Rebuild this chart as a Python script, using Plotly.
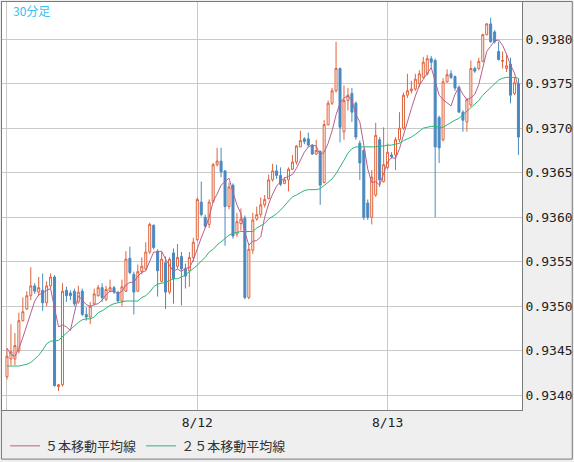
import pandas as pd
import plotly.graph_objects as go

# 30-minute bars, 8/11 00:00 onward
times = pd.date_range("2014-08-11 00:00", periods=130, freq="30min")

opens = [
    0.93421, 0.93441, 0.93441, 0.93450, 0.93484, 0.93497, 0.93512, 0.93523, 0.93516, 0.93518,
    0.93504, 0.93523, 0.93533, 0.93410, 0.93412, 0.93518, 0.93515, 0.93517, 0.93505, 0.93517,
    0.93491, 0.93488, 0.93503, 0.93512, 0.93521, 0.93508, 0.93517, 0.93521, 0.93516, 0.93506,
    0.93517, 0.93554, 0.93536, 0.93517, 0.93539, 0.93542, 0.93561, 0.93591, 0.93562, 0.93528,
    0.93549, 0.93516, 0.93560, 0.93545, 0.93556, 0.93542, 0.93540, 0.93555, 0.93575, 0.93617,
    0.93600, 0.93592, 0.93618, 0.93659, 0.93663, 0.93652, 0.93612, 0.93636, 0.93581, 0.93593,
    0.93599, 0.93510, 0.93563, 0.93598, 0.93603, 0.93614, 0.93621, 0.93642, 0.93652, 0.93647,
    0.93638, 0.93642, 0.93654, 0.93662, 0.93679, 0.93688, 0.93688, 0.93681, 0.93671, 0.93674,
    0.93639, 0.93704, 0.93728, 0.93742, 0.93767, 0.93696, 0.93731, 0.93739, 0.93728, 0.93683,
    0.93675, 0.93616, 0.93600, 0.93625, 0.93687, 0.93640, 0.93656, 0.93670, 0.93670, 0.93687,
    0.93700, 0.93737, 0.93742, 0.93744, 0.93750, 0.93757, 0.93761, 0.93778, 0.93776, 0.93712,
    0.93687, 0.93752, 0.93761, 0.93758, 0.93746, 0.93718, 0.93707, 0.93726, 0.93767, 0.93767,
    0.93775, 0.93805, 0.93817, 0.93808, 0.93786, 0.93775, 0.93767, 0.93772, 0.93739, 0.93750,
]
highs = [
    0.93453, 0.93480, 0.93470, 0.93493, 0.93510, 0.93517, 0.93544, 0.93526, 0.93533, 0.93537,
    0.93528, 0.93537, 0.93535, 0.93413, 0.93526, 0.93522, 0.93518, 0.93520, 0.93523, 0.93520,
    0.93499, 0.93505, 0.93520, 0.93524, 0.93526, 0.93523, 0.93530, 0.93523, 0.93517, 0.93530,
    0.93562, 0.93567, 0.93539, 0.93547, 0.93555, 0.93572, 0.93594, 0.93592, 0.93564, 0.93561,
    0.93556, 0.93555, 0.93565, 0.93570, 0.93561, 0.93548, 0.93561, 0.93577, 0.93622, 0.93640,
    0.93603, 0.93620, 0.93661, 0.93678, 0.93678, 0.93653, 0.93639, 0.93638, 0.93605, 0.93610,
    0.93602, 0.93570, 0.93605, 0.93612, 0.93622, 0.93625, 0.93648, 0.93660, 0.93659, 0.93656,
    0.93645, 0.93656, 0.93670, 0.93681, 0.93697, 0.93690, 0.93695, 0.93682, 0.93687, 0.93675,
    0.93709, 0.93731, 0.93745, 0.93797, 0.93768, 0.93748, 0.93745, 0.93745, 0.93730, 0.93686,
    0.93677, 0.93620, 0.93653, 0.93706, 0.93690, 0.93701, 0.93683, 0.93673, 0.93690, 0.93718,
    0.93740, 0.93761, 0.93753, 0.93761, 0.93765, 0.93780, 0.93782, 0.93781, 0.93778, 0.93714,
    0.93756, 0.93766, 0.93765, 0.93759, 0.93748, 0.93720, 0.93734, 0.93776, 0.93769, 0.93779,
    0.93806, 0.93818, 0.93824, 0.93810, 0.93797, 0.93786, 0.93783, 0.93779, 0.93757, 0.93756,
]
lows = [
    0.93418, 0.93434, 0.93434, 0.93447, 0.93483, 0.93496, 0.93507, 0.93514, 0.93512, 0.93495,
    0.93500, 0.93520, 0.93410, 0.93405, 0.93410, 0.93505, 0.93507, 0.93500, 0.93503, 0.93489,
    0.93484, 0.93480, 0.93501, 0.93511, 0.93505, 0.93506, 0.93516, 0.93514, 0.93505, 0.93500,
    0.93516, 0.93536, 0.93491, 0.93516, 0.93536, 0.93540, 0.93559, 0.93564, 0.93511, 0.93527,
    0.93497, 0.93514, 0.93503, 0.93542, 0.93501, 0.93520, 0.93522, 0.93550, 0.93573, 0.93601,
    0.93588, 0.93588, 0.93616, 0.93657, 0.93645, 0.93568, 0.93609, 0.93576, 0.93578, 0.93585,
    0.93508, 0.93508, 0.93559, 0.93596, 0.93600, 0.93611, 0.93620, 0.93640, 0.93643, 0.93635,
    0.93637, 0.93629, 0.93653, 0.93659, 0.93679, 0.93682, 0.93679, 0.93670, 0.93670, 0.93614,
    0.93638, 0.93703, 0.93726, 0.93740, 0.93684, 0.93687, 0.93720, 0.93707, 0.93687, 0.93642,
    0.93597, 0.93597, 0.93592, 0.93623, 0.93634, 0.93639, 0.93654, 0.93666, 0.93653, 0.93684,
    0.93698, 0.93734, 0.93739, 0.93742, 0.93746, 0.93756, 0.93759, 0.93768, 0.93600, 0.93661,
    0.93685, 0.93751, 0.93755, 0.93742, 0.93717, 0.93696, 0.93696, 0.93724, 0.93762, 0.93765,
    0.93774, 0.93804, 0.93796, 0.93795, 0.93776, 0.93767, 0.93763, 0.93728, 0.93737, 0.93670,
]
closes = [
    0.93444, 0.93449, 0.93456, 0.93484, 0.93494, 0.93512, 0.93523, 0.93517, 0.93521, 0.93504,
    0.93523, 0.93533, 0.93411, 0.93412, 0.93517, 0.93512, 0.93512, 0.93503, 0.93516, 0.93491,
    0.93488, 0.93500, 0.93514, 0.93521, 0.93510, 0.93519, 0.93521, 0.93516, 0.93506, 0.93522,
    0.93553, 0.93538, 0.93516, 0.93539, 0.93545, 0.93561, 0.93592, 0.93566, 0.93540, 0.93553,
    0.93516, 0.93553, 0.93531, 0.93555, 0.93542, 0.93534, 0.93555, 0.93572, 0.93620, 0.93603,
    0.93590, 0.93617, 0.93659, 0.93663, 0.93651, 0.93612, 0.93634, 0.93579, 0.93595, 0.93598,
    0.93510, 0.93564, 0.93597, 0.93603, 0.93614, 0.93620, 0.93642, 0.93652, 0.93647, 0.93637,
    0.93642, 0.93654, 0.93662, 0.93680, 0.93686, 0.93685, 0.93681, 0.93671, 0.93675, 0.93636,
    0.93704, 0.93728, 0.93742, 0.93767, 0.93701, 0.93731, 0.93737, 0.93718, 0.93690, 0.93661,
    0.93600, 0.93600, 0.93645, 0.93692, 0.93642, 0.93659, 0.93673, 0.93668, 0.93687, 0.93700,
    0.93737, 0.93742, 0.93744, 0.93755, 0.93761, 0.93774, 0.93778, 0.93774, 0.93679, 0.93678,
    0.93752, 0.93760, 0.93757, 0.93745, 0.93718, 0.93709, 0.93732, 0.93767, 0.93764, 0.93775,
    0.93805, 0.93817, 0.93797, 0.93797, 0.93777, 0.93776, 0.93770, 0.93737, 0.93751, 0.93690,
]
# moving averages as drawn on the chart
ma5 = [
    0.93453, 0.93446, 0.93444, 0.93453, 0.93465, 0.93479, 0.93494, 0.93506, 0.93513, 0.93515,
    0.93518, 0.93520, 0.93498, 0.93477, 0.93479, 0.93477, 0.93473, 0.93491, 0.93512, 0.93507,
    0.93502, 0.93500, 0.93502, 0.93503, 0.93507, 0.93513, 0.93517, 0.93517, 0.93514, 0.93517,
    0.93524, 0.93527, 0.93527, 0.93534, 0.93538, 0.93540, 0.93551, 0.93561, 0.93561, 0.93562,
    0.93553, 0.93546, 0.93539, 0.93542, 0.93539, 0.93543, 0.93543, 0.93552, 0.93565, 0.93577,
    0.93588, 0.93600, 0.93618, 0.93626, 0.93636, 0.93640, 0.93644, 0.93628, 0.93614, 0.93604,
    0.93583, 0.93569, 0.93573, 0.93574, 0.93578, 0.93600, 0.93615, 0.93626, 0.93635, 0.93640,
    0.93644, 0.93646, 0.93648, 0.93655, 0.93665, 0.93673, 0.93679, 0.93681, 0.93680, 0.93670,
    0.93673, 0.93683, 0.93697, 0.93715, 0.93728, 0.93734, 0.93736, 0.93731, 0.93715, 0.93707,
    0.93681, 0.93654, 0.93639, 0.93640, 0.93636, 0.93648, 0.93662, 0.93667, 0.93666, 0.93677,
    0.93693, 0.93707, 0.93722, 0.93736, 0.93748, 0.93755, 0.93762, 0.93768, 0.93753, 0.93737,
    0.93732, 0.93729, 0.93725, 0.93738, 0.93746, 0.93738, 0.93732, 0.93734, 0.93738, 0.93749,
    0.93769, 0.93786, 0.93792, 0.93798, 0.93799, 0.93793, 0.93783, 0.93771, 0.93762, 0.93745,
]
ma25 = [
    0.93433, 0.93433, 0.93433, 0.93433, 0.93434, 0.93435, 0.93437, 0.93441, 0.93445, 0.93451,
    0.93458, 0.93461, 0.93461, 0.93462, 0.93466, 0.93471, 0.93475, 0.93478, 0.93482, 0.93485,
    0.93486, 0.93486, 0.93488, 0.93493, 0.93495, 0.93498, 0.93501, 0.93503, 0.93504, 0.93505,
    0.93506, 0.93506, 0.93506, 0.93506, 0.93510, 0.93512, 0.93516, 0.93522, 0.93525, 0.93526,
    0.93527, 0.93529, 0.93531, 0.93531, 0.93533, 0.93535, 0.93539, 0.93542, 0.93546, 0.93551,
    0.93555, 0.93561, 0.93564, 0.93569, 0.93572, 0.93576, 0.93580, 0.93582, 0.93583, 0.93584,
    0.93584, 0.93584, 0.93584, 0.93588, 0.93591, 0.93593, 0.93598, 0.93601, 0.93604, 0.93608,
    0.93613, 0.93619, 0.93623, 0.93625, 0.93628, 0.93630, 0.93631, 0.93631, 0.93631, 0.93632,
    0.93636, 0.93639, 0.93643, 0.93649, 0.93656, 0.93664, 0.93672, 0.93677, 0.93679, 0.93679,
    0.93679, 0.93679, 0.93679, 0.93679, 0.93680, 0.93680, 0.93681, 0.93681, 0.93682, 0.93683,
    0.93686, 0.93688, 0.93690, 0.93693, 0.93697, 0.93700, 0.93701, 0.93702, 0.93702, 0.93701,
    0.93701, 0.93704, 0.93706, 0.93709, 0.93711, 0.93715, 0.93719, 0.93722, 0.93727, 0.93731,
    0.93737, 0.93741, 0.93746, 0.93750, 0.93754, 0.93756, 0.93757, 0.93757, 0.93757, 0.93756,
]

day_ticks = ["2014-08-11", "2014-08-12", "2014-08-13"]
day_labels = ["", "8/12", "8/13"]

UP = "#e0633b"
DOWN = "#4a89c0"
MA5_COLOR = "#b5608f"
MA25_COLOR = "#2db574"
BORDER = "#7a7a7a"
GRID = "#c9c9c9"
MONO = "DejaVu Sans Mono, monospace"
JP = "Noto Sans CJK JP, sans-serif"

fig = go.Figure()

fig.add_trace(go.Candlestick(
    x=times, open=opens, high=highs, low=lows, close=closes,
    increasing=dict(line=dict(color=UP, width=1), fillcolor="#ffffff"),
    decreasing=dict(line=dict(color=DOWN, width=1), fillcolor=DOWN),
    whiskerwidth=0,
    showlegend=False,
    hoverinfo="skip",
))
fig.add_trace(go.Scatter(
    x=times, y=ma5, mode="lines", name="５本移動平均線",
    line=dict(color=MA5_COLOR, width=1),
))
fig.add_trace(go.Scatter(
    x=times, y=ma25, mode="lines", name="２５本移動平均線",
    line=dict(color=MA25_COLOR, width=1),
))

fig.update_layout(
    width=574, height=462,
    margin=dict(l=1, r=51, t=1, b=50),
    paper_bgcolor="#efefef",
    plot_bgcolor="#ffffff",
    boxgap=0.28,
    font=dict(family=MONO, size=13, color="#222222"),
    showlegend=True,
    legend=dict(
        orientation="h", x=0.006, xanchor="left", y=-0.088, yanchor="middle",
        font=dict(family=JP, size=13, color="#333333"),
        bgcolor="rgba(0,0,0,0)",
    ),
    annotations=[dict(
        text="30分足", xref="paper", yref="paper", x=0.018, y=0.978,
        xanchor="left", yanchor="middle", showarrow=False,
        font=dict(family=JP, size=12, color="#38c0f0"),
    )],
    shapes=[dict(
        type="rect", xref="paper", yref="paper",
        x0=-0.001, x1=1.0967, y0=-0.1204, y1=1.0012,
        line=dict(color=BORDER, width=1),
    )],
)

fig.update_xaxes(
    type="date",
    range=["2014-08-10 23:22:20", "2014-08-13 16:57:00"],
    tickvals=day_ticks, ticktext=day_labels,
    showgrid=True, gridcolor=GRID, gridwidth=1,
    ticks="", showline=True, mirror=True, linecolor=BORDER, linewidth=1,
    rangeslider=dict(visible=False),
    zeroline=False,
)
fig.update_yaxes(
    side="right",
    range=[0.933837, 0.938416],
    tick0=0.934, dtick=0.0005, tickformat=".4f",
    showgrid=True, gridcolor=GRID, gridwidth=1,
    ticks="", showline=True, mirror=True, linecolor=BORDER, linewidth=1,
    zeroline=False,
)

# page body has a default 8px margin; drop it so the chart sits at the corner
fig.write_html(
    "out.html",
    config={"displayModeBar": False},
    post_script="document.body.style.margin='0';",
)
